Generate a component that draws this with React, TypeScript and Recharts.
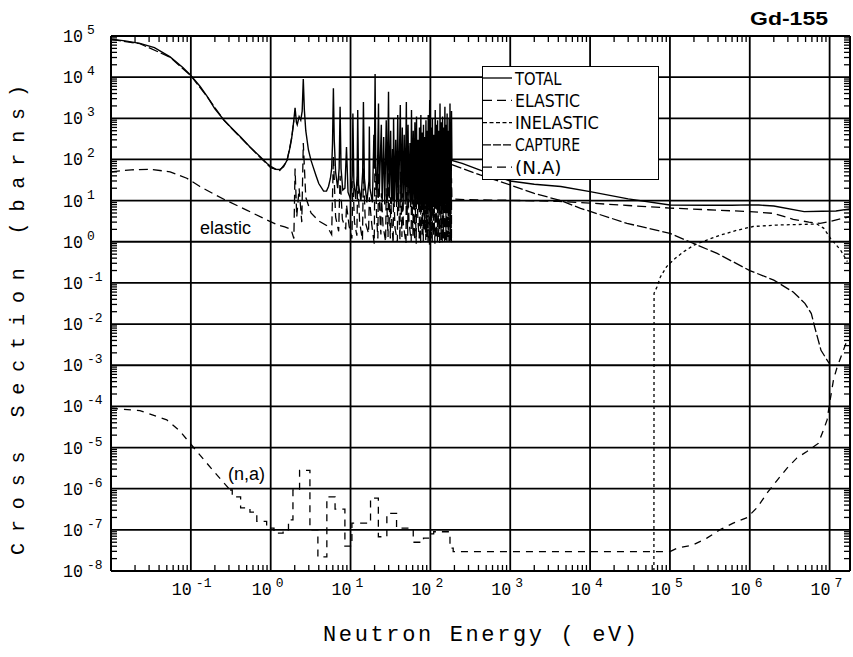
import React from "react";
import { ComposedChart, Line, Scatter, XAxis, YAxis, ReferenceLine, Legend } from "recharts";

type Pt = [number, number];

const W = 853;
const H = 657;
const X_DOMAIN: [number, number] = [1e-2, 1.8e7];
const Y_DOMAIN: [number, number] = [1e-8, 1e5];

// decade gridlines / labelled ticks
const X_MAJOR = [1e-1, 1, 10, 100, 1e3, 1e4, 1e5, 1e6, 1e7];
const Y_MAJOR = [1e-8, 1e-7, 1e-6, 1e-5, 1e-4, 1e-3, 1e-2, 1e-1, 1, 10, 100, 1e3, 1e4, 1e5];
// minor tick positions (2..9 in each decade)
const X_MINOR = [
  0.02, 0.03, 0.04, 0.05, 0.06, 0.07, 0.08, 0.09, 0.2, 0.3, 0.4, 0.5, 0.6, 0.7, 0.8, 0.9,
  2, 3, 4, 5, 6, 7, 8, 9, 20, 30, 40, 50, 60, 70, 80, 90, 200, 300, 400, 500, 600, 700, 800, 900,
  2e3, 3e3, 4e3, 5e3, 6e3, 7e3, 8e3, 9e3, 2e4, 3e4, 4e4, 5e4, 6e4, 7e4, 8e4, 9e4,
  2e5, 3e5, 4e5, 5e5, 6e5, 7e5, 8e5, 9e5, 2e6, 3e6, 4e6, 5e6, 6e6, 7e6, 8e6, 9e6,
];
const Y_MANTISSA = [2, 3, 4, 5, 6, 7, 8, 9];

const PLOT_FONT = "'Liberation Mono', 'DejaVu Sans Mono', monospace";
const LEGEND_FONT = "'DejaVu Sans Condensed', 'Liberation Sans Narrow', 'DejaVu Sans', sans-serif";
const LABEL_FONT = "'Liberation Sans', Arial, sans-serif";
const TICK_LEN = 6;

// ---- TOTAL (barns vs eV)
const TOTAL_THERMAL: Pt[] = [
  [0.01, 8.4e4], [0.015, 7.6e4], [0.023, 6.6e4], [0.035, 5.2e4], [0.055, 3.1e4], [0.08, 1.7e4],
  [0.1, 1.1e4], [0.13, 6.0e3], [0.16, 3.4e3], [0.2, 1.7e3], [0.26, 910], [0.33, 560], [0.42, 350],
  [0.55, 200], [0.74, 117], [0.9, 80], [1.0, 68], [1.15, 58], [1.3, 57], [1.45, 66], [1.6, 95],
  [1.75, 200], [1.84, 355], [1.95, 900],
];
const TOTAL_RES: Pt[] = [
  [2.02, 1800], [2.1, 800], [2.15, 700], [2.27, 1100], [2.38, 900], [2.48, 1500], [2.56, 9000],
  [2.64, 1600], [2.75, 500], [2.97, 170], [3.2, 95], [3.4, 66], [3.7, 40], [4.0, 26], [4.6, 17],
  [5.0, 17], [5.3, 22], [5.6, 35], [5.8, 60], [5.95, 250], [6.1, 5400], [6.25, 300], [6.5, 50],
  [6.9, 20], [7.2, 60], [7.4, 1900], [7.6, 60], [8.0, 18], [8.5, 20], [8.9, 200], [9.3, 16],
  [10.0, 11], [10.5, 40], [10.7, 1300], [11.0, 30], [11.6, 11], [12.1, 40], [12.3, 1600],
  [12.6, 25], [13.5, 10], [14.2, 50], [14.5, 2500], [14.9, 35], [16.0, 9], [17.0, 30], [17.2, 630],
  [17.5, 20], [18.8, 9], [19.6, 400], [19.9, 60], [20.3, 12000], [20.7, 60], [21.5, 12],
  [22.4, 2300], [22.9, 14], [24.3, 700], [24.9, 9], [26.0, 350], [26.8, 8], [28.0, 900], [28.9, 10],
  [29.9, 4400], [30.6, 12], [31.8, 500], [32.6, 8], [33.6, 180], [34.1, 10], [34.6, 1000],
  [35.5, 9], [36.8, 300], [37.8, 7], [39.0, 1200], [40.0, 8], [42.0, 2100], [43.0, 9], [44.5, 600],
  [45.5, 6], [47.0, 400], [48.3, 8], [50.0, 2500], [51.0, 7], [52.5, 700], [53.8, 9], [55.5, 250],
  [56.6, 7], [58.0, 1600], [59.3, 8], [61.0, 500], [62.3, 6], [64.0, 800], [65.3, 7], [67.0, 1100],
  [68.3, 8], [70.0, 300], [71.3, 6], [73.0, 600], [74.2, 7], [76.0, 1200], [77.2, 8], [79.0, 450],
  [80.2, 6], [82.0, 700], [83.2, 5], [85.0, 350], [86.2, 8], [88.0, 900], [89.2, 6], [91.0, 500],
  [92.3, 7], [94.0, 1200], [95.8, 6], [98.0, 2800], [99.8, 8], [102, 600], [103.8, 6], [106, 1000],
  [107.8, 7], [110, 400], [112, 5], [115, 1600], [116.8, 7], [119, 700], [120.8, 6], [123, 900],
  [125, 7], [128, 500], [130, 5], [132, 2300], [134, 8], [137, 800], [139, 6], [142, 1100],
  [144, 7], [147, 600], [149, 6], [152, 1900], [154, 8], [157, 700], [159, 6], [162, 1300],
  [164, 7], [167, 500], [169, 6], [172, 1000], [174, 7], [176, 2300], [178, 8], [180, 800],
  [182, 9], [184, 1500], [186, 95],
];
const TOTAL_FAST: Pt[] = [
  [250, 80], [420, 55], [1e3, 30], [2e3, 25], [4.3e3, 22], [1e4, 16.5], [3e4, 11], [1e5, 7.8],
  [3e5, 7.7], [6e5, 7.7], [1e6, 7.9], [1.3e6, 7.8], [2e6, 7.4], [4.8e6, 5.4], [8e6, 5.5],
  [1.2e7, 5.6], [1.8e7, 6.3],
];

// ---- ELASTIC
const ELASTIC_THERMAL: Pt[] = [
  [0.01, 50], [0.018, 56], [0.031, 58], [0.055, 50], [0.089, 35], [0.13, 22], [0.2, 14],
  [0.28, 10], [0.5, 5.9], [0.89, 3.4], [1.2, 2.6], [1.5, 2.3], [1.8, 2.0],
];
const ELASTIC_RES: Pt[] = [
  [1.95, 1.2], [2.02, 60], [2.12, 4], [2.27, 20], [2.45, 3], [2.56, 250], [2.75, 12], [3.2, 5],
  [4.0, 3.2], [5.0, 2.5], [5.8, 1.5], [6.1, 120], [6.5, 4], [7.1, 1.8], [7.4, 40], [7.9, 3.5],
  [8.7, 2], [8.9, 8], [9.6, 2.4], [10.4, 1.2], [10.7, 30], [11.2, 3], [12.0, 1.4], [12.3, 35],
  [13.0, 3], [14.1, 1.1], [14.5, 60], [15.3, 3], [16.8, 1.6], [17.2, 12], [18.5, 2.5], [19.8, 0.9],
  [20.3, 300], [21.2, 4], [22.0, 1.2], [22.4, 50], [23.5, 3], [24.0, 1.5], [24.3, 15], [25.5, 2.5],
  [27.5, 1.0], [28.0, 20], [29.5, 1.3], [29.9, 110], [31.0, 3], [31.5, 1.2], [31.8, 12], [33.0, 2.5],
  [34.2, 0.9], [34.6, 25], [36.0, 2.2], [38.6, 1.0], [39.0, 30], [41.6, 1.1], [42.0, 50], [44.0, 1.3],
  [44.5, 15], [46.0, 2.5], [49.5, 0.9], [50.0, 60], [52.0, 1.4], [52.5, 18], [54.0, 3], [57.5, 1.0],
  [58.0, 40], [60.5, 1.4], [61.0, 12], [63.5, 1.1], [64.0, 20], [66.5, 0.9], [67.0, 30], [70.0, 3],
  [72.5, 1.2], [73.0, 15], [75.5, 0.9], [76.0, 30], [78.5, 1.5], [79.0, 12], [81.5, 1.0], [82.0, 18],
  [84.5, 2], [85.0, 9], [87.5, 1.1], [88.0, 22], [90.5, 1.3], [91.0, 12], [93.5, 0.95], [94.0, 30],
  [97.5, 0.85], [98.0, 70], [101.5, 1.2], [102, 15], [105.5, 1.0], [106, 25], [109.5, 1.4], [110, 10],
  [114, 0.9], [115, 40], [118.5, 1.2], [119, 18], [122.5, 1.0], [123, 22], [127.5, 1.3], [128, 12],
  [131, 0.85], [132, 55], [136.5, 1.1], [137, 20], [141, 0.95], [142, 28], [146.5, 1.2], [147, 15],
  [151, 0.9], [152, 45], [156.5, 1.1], [157, 18], [161, 0.95], [162, 32], [166.5, 1.3], [167, 12],
  [171, 1.0], [172, 25], [175.5, 0.9], [176, 55], [179.5, 1.1], [180, 20], [183.5, 0.95], [184, 35],
  [186, 11],
];
const ELASTIC_FAST: Pt[] = [
  [300, 10.5], [1e3, 10.2], [4e3, 9.6], [1e4, 8.7], [3e4, 7.6], [1e5, 6.6], [3e5, 6.0], [1e6, 5.4],
  [2e6, 4.9], [3.5e6, 3.5], [5.5e6, 3.0], [7.6e6, 2.8], [1e7, 3.1], [1.8e7, 4.1],
];

// ---- CAPTURE (hidden under total in the resolved range)
const CAPTURE_THERMAL: Pt[] = [
  [0.01, 8.3e4], [0.023, 6.5e4], [0.055, 3.05e4], [0.1, 1.08e4], [0.16, 3.35e3], [0.26, 890],
  [0.42, 340], [0.74, 112], [1.0, 63], [1.3, 54], [1.6, 90], [1.84, 350], [1.95, 890],
];
const CAPTURE_FAST: Pt[] = [
  [186, 75], [420, 42], [1e3, 24], [2e3, 15], [4.3e3, 10], [7.6e3, 6.5], [2.9e4, 2.8], [1e5, 1.6],
  [2.2e5, 0.83], [3.9e5, 0.52], [1e6, 0.2], [2e6, 0.117], [3.5e6, 0.06], [4.9e6, 0.032],
  [5.9e6, 0.018], [6.5e6, 8.5e-3], [7.8e6, 2.3e-3], [9.9e6, 1.1e-3],
];

// ---- INELASTIC
const INELASTIC: Pt[] = [
  [6.3e4, 1e-8], [6.33e4, 0.056], [6.9e4, 0.081], [7.6e4, 0.14], [9.1e4, 0.25], [1.17e5, 0.4],
  [1.5e5, 0.58], [2.0e5, 0.83], [2.9e5, 1.1], [4.3e5, 1.45], [6.9e5, 1.9], [1.1e6, 2.35],
  [2.2e6, 2.55], [6.9e6, 2.7], [8.4e6, 2.15], [1.03e7, 1.2], [1.37e7, 0.63], [1.67e7, 0.33],
];

// ---- (N,A)
const NA_THERMAL: Pt[] = [
  [0.01, 9e-5], [0.023, 7.9e-5], [0.05, 4.7e-5], [0.073, 2.5e-5], [0.102, 1.15e-5],
  [0.158, 4.2e-6], [0.23, 1.8e-6], [0.31, 9.3e-7],
];
const NA_STEPS: Pt[] = [
  [0.31, 9.3e-7], [0.33, 6.3e-7], [0.42, 3.4e-7], [0.55, 2.7e-7], [0.67, 1.6e-7], [0.89, 1.1e-7],
  [1.1, 8.3e-8], [1.43, 1.0e-7], [1.67, 1.74e-7], [1.9, 9.3e-7], [2.3, 2.8e-6], [3.1, 1.0e-7],
  [3.9, 2.2e-8], [5.05, 6.3e-7], [6.4, 3.2e-7], [8.5, 4.0e-8], [10.4, 1.45e-7], [17.8, 5.9e-7],
  [22.3, 6.8e-8], [28.5, 2.5e-7], [37.7, 1.1e-7], [61, 5.0e-8], [82, 6.3e-8], [95, 8.0e-8],
  [110, 9.0e-8], [176, 3.6e-8], [193, 2.95e-8], [1.0e5, 2.95e-8],
];
const NA_FAST: Pt[] = [
  [1.0e5, 2.95e-8], [1.23e5, 3.6e-8], [1.95e5, 4.3e-8], [2.9e5, 6.3e-8], [4.2e5, 1e-7],
  [6.2e5, 1.45e-7], [9.3e5, 2.0e-7], [1.24e6, 3.5e-7], [1.66e6, 8e-7], [2.2e6, 1.6e-6],
  [2.95e6, 3.2e-6], [3.9e6, 5.6e-6], [5.2e6, 8e-6], [7.2e6, 1.26e-5], [8.4e6, 2.7e-5],
  [9.3e6, 4.7e-5], [1.0e7, 1.2e-4], [1.12e7, 4.5e-4], [1.24e7, 8.9e-4], [1.66e7, 4.1e-3],
];

const LEGEND_ITEMS = [
  { label: "TOTAL", dash: undefined as string | undefined },
  { label: "ELASTIC", dash: "9 5" },
  { label: "INELASTIC", dash: "4 2.5" },
  { label: "CAPTURE", dash: "8 2" },
  { label: "(N.A)", dash: "9 5" },
];

const toPts = (arr: Pt[]) => arr.map(([x, y]) => ({ x, y }));

const total = toPts([...TOTAL_THERMAL, ...TOTAL_RES, ...TOTAL_FAST]);
const elastic = toPts([...ELASTIC_THERMAL, ...ELASTIC_RES, ...ELASTIC_FAST]);

const [x0, x1] = X_DOMAIN;
const [y0, y1] = Y_DOMAIN;
const Y_MINOR: number[] = [];
Y_MAJOR.slice(0, -1).forEach((d) => Y_MANTISSA.forEach((m) => Y_MINOR.push(m * d)));

// anchor points for the minor ticks on each edge
const tickBottom = X_MINOR.map((x) => ({ x, y: y0 }));
const tickTop = X_MINOR.map((x) => ({ x, y: y1 }));
const tickLeft = Y_MINOR.map((y) => ({ x: x0, y }));
const tickRight = Y_MINOR.map((y) => ({ x: x1, y }));

const tickShape = (dx: number, dy: number) => (props: any) => {
  const { cx, cy } = props;
  if (cx == null || cy == null) return <g />;
  return <line x1={cx} y1={cy} x2={cx + dx} y2={cy + dy} stroke="#000" strokeWidth={1.3} />;
};

function BottomTick({ x, y, payload }: any) {
  const p = Math.round(Math.log10(payload.value));
  return (
    <g>
      <text x={x + 1} y={y + 24} textAnchor="end" fontSize={18} fontFamily={PLOT_FONT}
        textLength={20} lengthAdjust="spacingAndGlyphs" fill="#000">10</text>
      <text x={x + 5} y={y + 16} fontSize={13} fontFamily={PLOT_FONT} fill="#000">{p}</text>
    </g>
  );
}

function LeftTick({ x, y, payload }: any) {
  const p = Math.round(Math.log10(payload.value));
  return (
    <g>
      <text x={x - 28} y={y + 6} textAnchor="end" fontSize={18} fontFamily={PLOT_FONT}
        textLength={20} lengthAdjust="spacingAndGlyphs" fill="#000">10</text>
      <text x={x - 24} y={y - 2} fontSize={13} fontFamily={PLOT_FONT} fill="#000">{p}</text>
    </g>
  );
}

function LegendBox() {
  return (
    <div style={{ width: 177, height: 114, border: "1.5px solid #000", background: "#fff", boxSizing: "border-box" }}>
      <svg width={174} height={111} style={{ display: "block" }}>
        {LEGEND_ITEMS.map((it, i) => {
          const cy = 11 + i * 22.3;
          return (
            <g key={it.label}>
              <line x1={0} x2={29} y1={cy} y2={cy} stroke="#000" strokeWidth={1.3} strokeDasharray={it.dash} />
              <text x={32} y={cy + 6.5} fontSize={17} fontFamily={LEGEND_FONT} fill="#000"
                textLength={it.label.length * 9.3} lengthAdjust="spacingAndGlyphs">{it.label}</text>
            </g>
          );
        })}
      </svg>
    </div>
  );
}

const common = { dot: false, isAnimationActive: false, stroke: "#000", dataKey: "y", legendType: "none" as const };

export default function App() {
  return (
    <div style={{ position: "absolute", left: 0, top: 0, width: W, height: H, background: "#fff" }}>
      <ComposedChart width={W} height={H} margin={{ top: 36, right: 3, bottom: 0, left: 0 }}>
        <XAxis dataKey="x" type="number" scale="log" domain={X_DOMAIN} allowDataOverflow
          ticks={X_MAJOR} interval={0} height={86} tickSize={0} tickMargin={0}
          tickLine={false} axisLine={false} tick={<BottomTick />} />
        <YAxis dataKey="y" type="number" scale="log" domain={Y_DOMAIN} allowDataOverflow
          ticks={Y_MAJOR} interval={0} width={111} tickSize={0} tickMargin={0}
          tickLine={false} axisLine={false} tick={<LeftTick />} />

        {X_MAJOR.map((v) => (
          <ReferenceLine key={`gx${v}`} x={v} stroke="#000" strokeWidth={1.8} />
        ))}
        {Y_MAJOR.map((v) => (
          <ReferenceLine key={`gy${v}`} y={v} stroke="#000" strokeWidth={1.8} />
        ))}
        <ReferenceLine x={x0} stroke="#000" strokeWidth={2} />
        <ReferenceLine x={x1} stroke="#000" strokeWidth={2} />

        {/* minor ticks, pointing inward on all four sides */}
        <Scatter data={tickBottom} dataKey="y" isAnimationActive={false} legendType="none" shape={tickShape(0, -TICK_LEN)} />
        <Scatter data={tickTop} dataKey="y" isAnimationActive={false} legendType="none" shape={tickShape(0, TICK_LEN)} />
        <Scatter data={tickLeft} dataKey="y" isAnimationActive={false} legendType="none" shape={tickShape(TICK_LEN, 0)} />
        <Scatter data={tickRight} dataKey="y" isAnimationActive={false} legendType="none" shape={tickShape(-TICK_LEN, 0)} />

        <Line {...common} data={total} type="linear" strokeWidth={1.4} />
        <Line {...common} data={elastic} type="linear" strokeWidth={1.3} strokeDasharray="9 5" />
        <Line {...common} data={toPts(CAPTURE_THERMAL)} type="linear" strokeWidth={1.3} strokeDasharray="10 3" />
        <Line {...common} data={toPts(CAPTURE_FAST)} type="linear" strokeWidth={1.3} strokeDasharray="10 3" />
        <Line {...common} data={toPts(INELASTIC)} type="linear" strokeWidth={1.3} strokeDasharray="3 3" />
        <Line {...common} data={toPts(NA_THERMAL)} type="linear" strokeWidth={1.3} strokeDasharray="7 6" />
        <Line {...common} data={toPts(NA_STEPS)} type="stepAfter" strokeWidth={1.3} strokeDasharray="7 6" />
        <Line {...common} data={toPts(NA_FAST)} type="linear" strokeWidth={1.3} strokeDasharray="7 6" />

        <Legend layout="horizontal" verticalAlign="middle" align="center" width={177} height={114}
          wrapperStyle={{ left: 482, top: 66, width: 177, height: 114 }} content={() => <LegendBox />} />
      </ComposedChart>

      <svg width={W} height={H} style={{ position: "absolute", left: 0, top: 0, pointerEvents: "none" }}>
        <text x={750} y={25} fontSize={19} fontWeight="bold" fontFamily={LABEL_FONT} textLength={78}
          lengthAdjust="spacingAndGlyphs" fill="#000">Gd-155</text>
        <text transform="translate(24,555) rotate(-90)" fontSize={20} fontFamily={PLOT_FONT}
          textLength={470} fill="#000">Cross Section (barns)</text>
        <text x={323} y={641} fontSize={22} fontFamily={PLOT_FONT} textLength={314} fill="#000">
          Neutron Energy ( eV)
        </text>
        <text x={200} y={234} fontSize={18} fontFamily={LABEL_FONT} fill="#000">elastic</text>
        <text x={228} y={480} fontSize={18} fontFamily={LABEL_FONT} fill="#000">(n,a)</text>
      </svg>
    </div>
  );
}
